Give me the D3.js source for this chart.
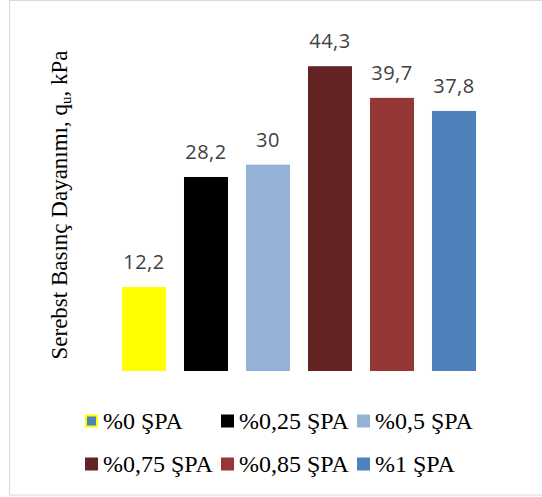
<!DOCTYPE html>
<html>
<head>
<meta charset="utf-8">
<script src="https://cdn.jsdelivr.net/npm/d3@7"></script>
<style>
  html, body { margin: 0; padding: 0; background: #fff; }
  svg { display: block; }
</style>
</head>
<body>
<svg id="chart" width="542" height="497"></svg>
<script>
// Unconfined compressive strength by SPA content
const categories = ["%0 ŞPA", "%0,25 ŞPA", "%0,5 ŞPA", "%0,75 ŞPA", "%0,85 ŞPA", "%1 ŞPA"];
const values = [12.2, 28.2, 30, 44.3, 39.7, 37.8];
const valueLabels = ["12,2", "28,2", "30", "44,3", "39,7", "37,8"];
const colors = ["#FFFF00", "#000000", "#95B3D7", "#632423", "#953735", "#4F81BD"];

const svg = d3.select("#chart");

// chart frame
svg.append("rect")
  .attr("x", 9.5).attr("y", 0.5)
  .attr("width", 545).attr("height", 494.5)
  .attr("fill", "#fff")
  .attr("stroke", "#d9d9d9")
  .attr("stroke-width", 1);

const plot = { left: 113, right: 485, top: 27, bottom: 371 };

const x = d3.scaleBand()
  .domain(categories)
  .range([plot.left, plot.right])
  .paddingInner(0.29)
  .paddingOuter(0.145);

const y = d3.scaleLinear()
  .domain([0, 50])
  .range([plot.bottom, plot.top]);

// bars
svg.append("g")
  .selectAll("rect")
  .data(categories)
  .join("rect")
  .attr("x", d => x(d))
  .attr("y", (d, i) => y(values[i]))
  .attr("width", x.bandwidth())
  .attr("height", (d, i) => y(0) - y(values[i]))
  .attr("fill", (d, i) => colors[i]);

// value labels
svg.append("g")
  .selectAll("text")
  .data(categories)
  .join("text")
  .attr("x", d => x(d) + x.bandwidth() / 2)
  .attr("y", (d, i) => y(values[i]) - 18)
  .attr("text-anchor", "middle")
  .attr("font-family", "'Open Sans', sans-serif")
  .attr("font-size", 20)
  .attr("letter-spacing", 0.5)
  .attr("fill", "#404040")
  .text((d, i) => valueLabels[i]);

// y-axis title
const title = svg.append("text")
  .attr("transform", "translate(67,205) rotate(-90)")
  .attr("text-anchor", "middle")
  .attr("font-family", "'Liberation Serif', 'Times New Roman', serif")
  .attr("font-size", 23)
  .attr("fill", "#000");
title.append("tspan").text("Serebst Basınç Dayanımı, q");
title.append("tspan").attr("font-size", 15).attr("dy", 4).text("u");
title.append("tspan").attr("dy", -4).text(", kPa");

// legend
const legendCols = [85, 221, 357];
const legendRows = [421, 464];
const legend = svg.append("g")
  .selectAll("g")
  .data(categories)
  .join("g")
  .attr("transform", (d, i) => `translate(${legendCols[i % 3]},${legendRows[Math.floor(i / 3)]})`);

legend.append("rect")
  .attr("x", (d, i) => i === 0 ? 1 : 0)
  .attr("y", (d, i) => i === 0 ? -5.5 : -6.5)
  .attr("width", (d, i) => i === 0 ? 11 : 13)
  .attr("height", (d, i) => i === 0 ? 11 : 13)
  .attr("fill", (d, i) => i === 0 ? "#4F81BD" : colors[i])
  .attr("stroke", (d, i) => i === 0 ? colors[0] : "none")
  .attr("stroke-width", 2);

legend.append("text")
  .attr("x", 18)
  .attr("y", 7.5)
  .attr("font-family", "'Liberation Serif', 'Times New Roman', serif")
  .attr("font-size", 24)
  .attr("fill", "#000")
  .text(d => d);
</script>
</body>
</html>
